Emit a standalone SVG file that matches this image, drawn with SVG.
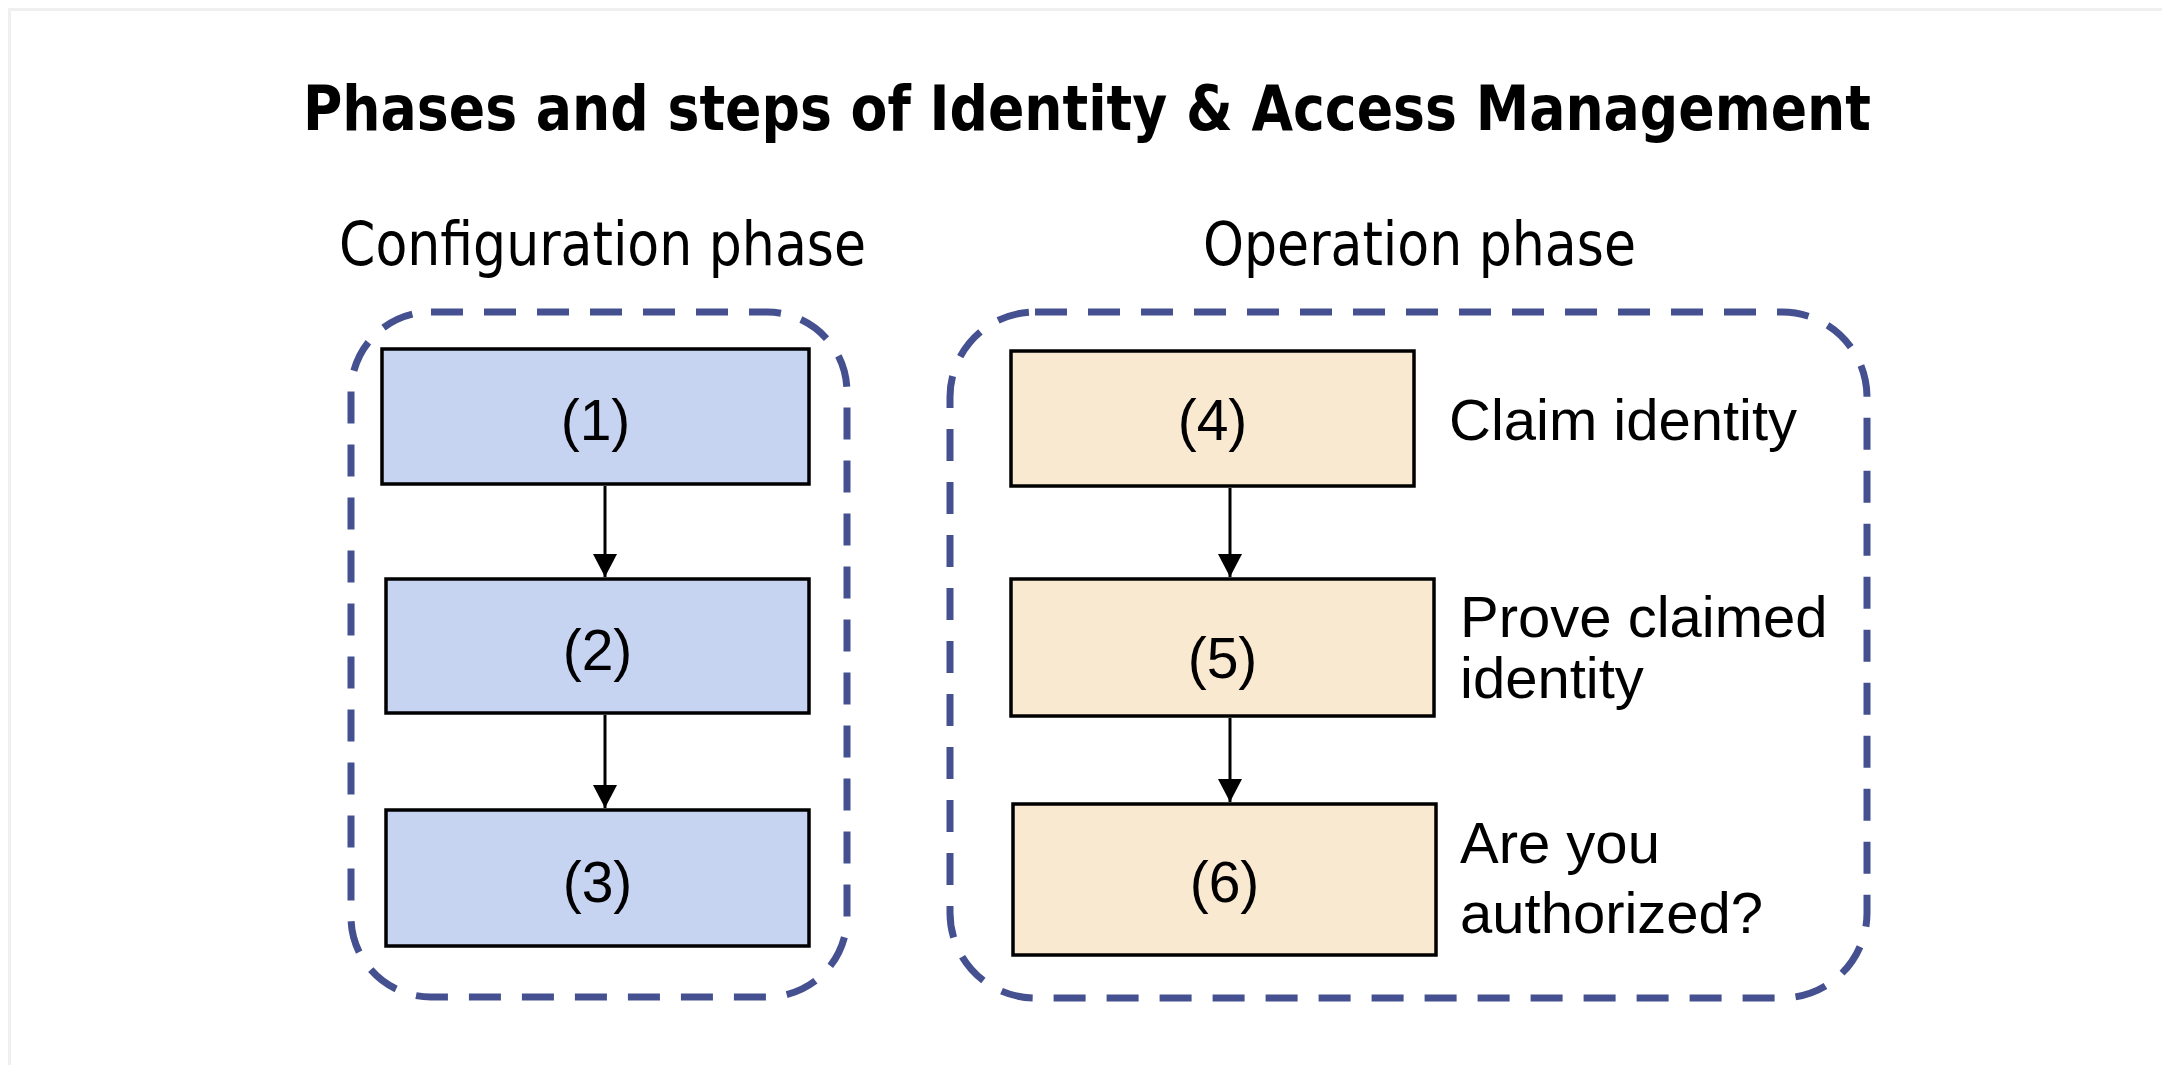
<svg xmlns="http://www.w3.org/2000/svg" width="2163" height="1065" viewBox="0 0 2163 1065">
  <defs>
    <style>
      .title { font-family: "DejaVu Sans Condensed", "DejaVu Sans", sans-serif; font-weight: bold; font-size: 63px; fill: #000; }
      .sub { font-family: "DejaVu Sans Condensed", "DejaVu Sans", sans-serif; font-size: 61px; fill: #000; }
      .num { font-family: "Liberation Sans", Arial, sans-serif; font-size: 57px; fill: #000; text-anchor: middle; }
      .lbl { font-family: "Liberation Sans", Arial, sans-serif; font-size: 58px; fill: #000; }
      .phase { fill: none; stroke: #44508f; stroke-width: 7; stroke-dasharray: 32 21; }
      .cfg { fill: #c6d4f2; stroke: #000; stroke-width: 3.5; }
      .op { fill: #fae9d1; stroke: #000; stroke-width: 3.5; }
      .conn { stroke: #000; stroke-width: 3; fill: none; marker-end: url(#arrow); }
    </style>
    <marker id="arrow" markerWidth="23" markerHeight="24" refX="23" refY="12" orient="auto" markerUnits="userSpaceOnUse" viewBox="0 0 23 24">
      <path d="M0 0 L23 12 L0 24 Z" fill="#000"/>
    </marker>
  </defs>
  <rect x="0" y="0" width="2163" height="1065" fill="#fff"/>
  <path d="M9.5 1065 V9.5 H2162" fill="none" stroke="#efefef" stroke-width="3"/>

  <text class="title" x="303" y="130" textLength="1568" lengthAdjust="spacingAndGlyphs">Phases and steps of Identity &amp; Access Management</text>

  <g id="configuration-phase">
    <text class="sub" x="339" y="265" textLength="527" lengthAdjust="spacingAndGlyphs">Configuration phase</text>
    <rect class="phase" x="351" y="312" width="496" height="685" rx="80" ry="80"/>
  </g>
  <g id="operation-phase">
    <text class="sub" x="1203" y="265" textLength="433" lengthAdjust="spacingAndGlyphs">Operation phase</text>
    <rect class="phase" x="950" y="312" width="917" height="686" rx="85" ry="85"/>
  </g>

  <g id="step1">
    <rect class="cfg" x="382" y="349" width="427" height="135"/>
    <text class="num" x="595.5" y="440">(1)</text>
  </g>
  <g id="step2">
    <rect class="cfg" x="386" y="579" width="423" height="134"/>
    <text class="num" x="597.5" y="670">(2)</text>
  </g>
  <g id="step3">
    <rect class="cfg" x="386" y="810" width="423" height="136"/>
    <text class="num" x="597.5" y="902">(3)</text>
  </g>
  <g id="step4">
    <rect class="op" x="1011" y="351" width="403" height="135"/>
    <text class="num" x="1212.5" y="440">(4)</text>
    <text class="lbl" x="1449" y="440">Claim identity</text>
  </g>
  <g id="step5">
    <rect class="op" x="1011" y="579" width="423" height="137"/>
    <text class="num" x="1222.5" y="678">(5)</text>
    <text class="lbl" x="1460" y="637">Prove claimed</text>
    <text class="lbl" x="1460" y="698">identity</text>
  </g>
  <g id="step6">
    <rect class="op" x="1013" y="804" width="423" height="151"/>
    <text class="num" x="1224.5" y="902">(6)</text>
    <text class="lbl" x="1460" y="863">Are you</text>
    <text class="lbl" x="1460" y="933">authorized?</text>
  </g>

  <g id="connectors">
    <line class="conn" x1="605" y1="486" x2="605" y2="577"/>
    <line class="conn" x1="605" y1="715" x2="605" y2="808"/>
    <line class="conn" x1="1230" y1="488" x2="1230" y2="577"/>
    <line class="conn" x1="1230" y1="718" x2="1230" y2="802"/>
  </g>
</svg>
